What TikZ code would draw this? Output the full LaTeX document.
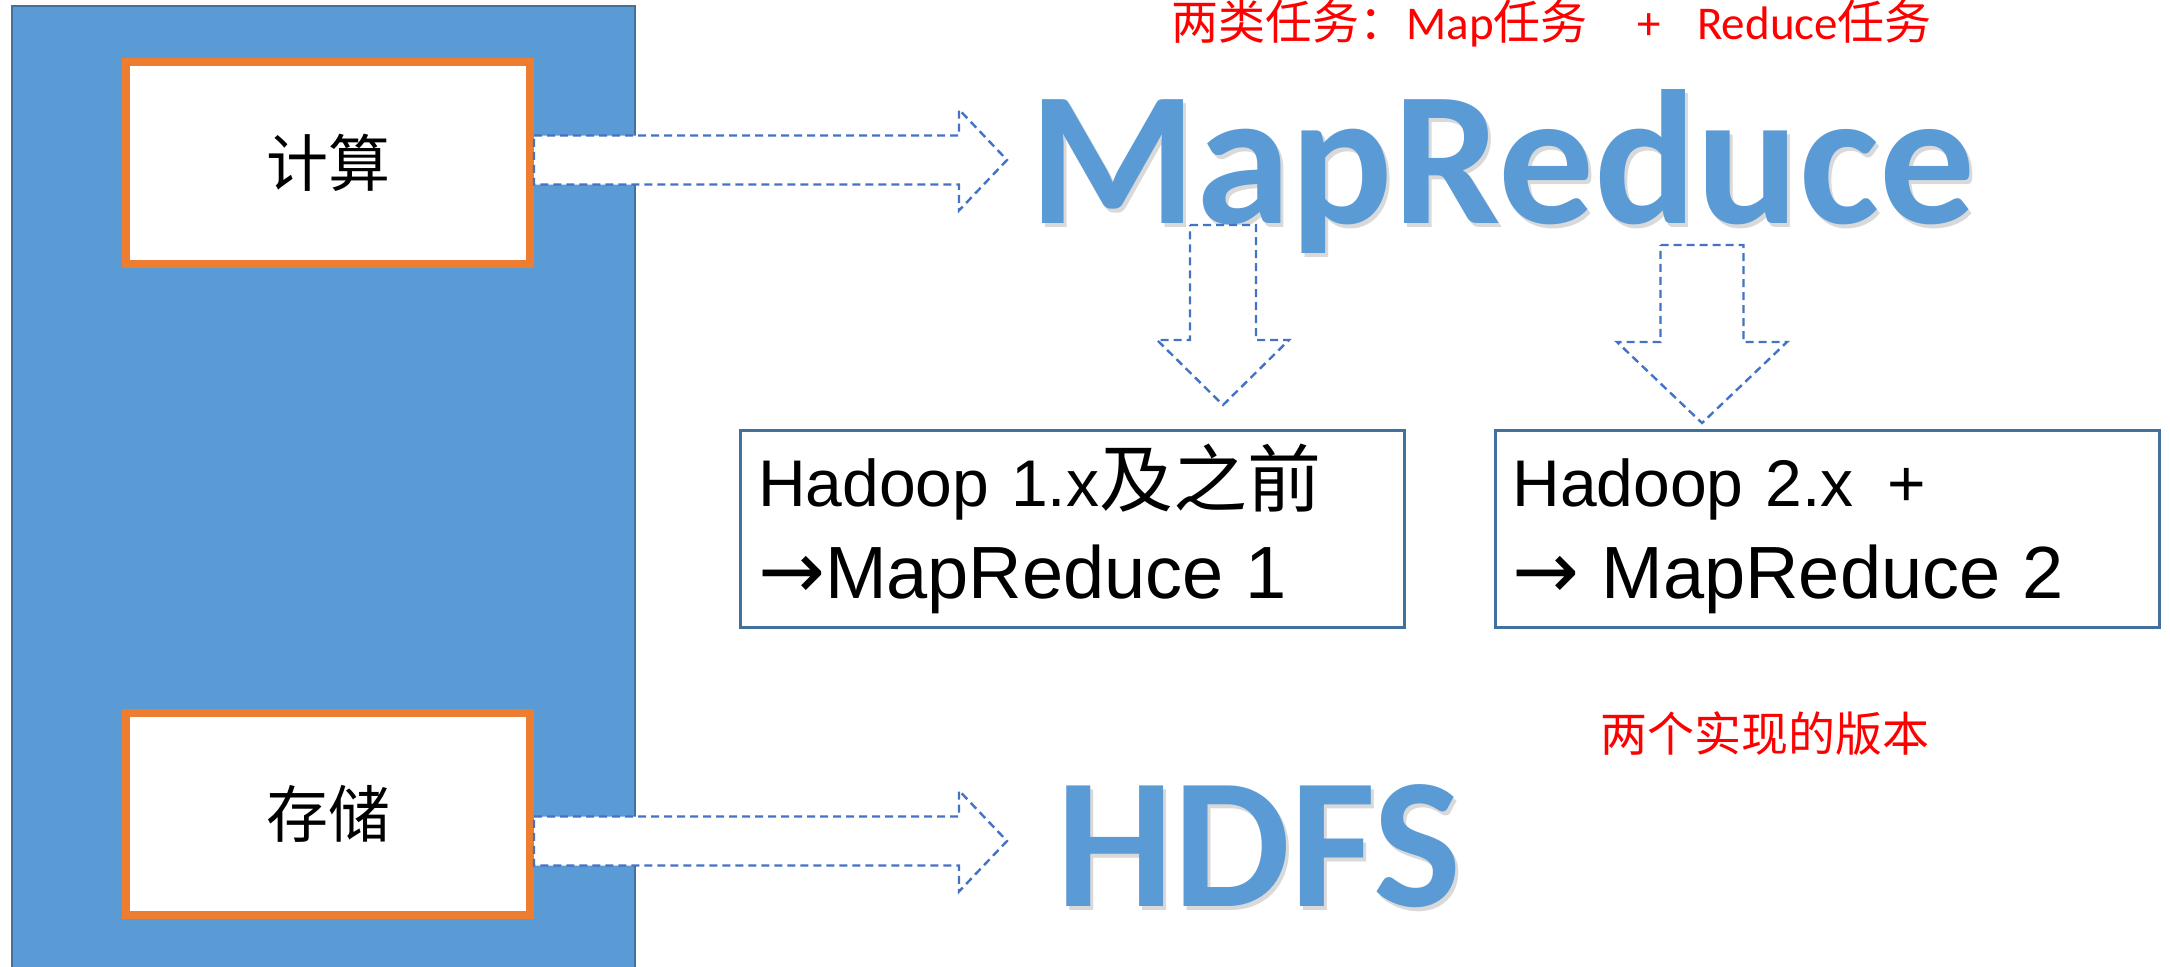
\documentclass[tikz,border=0pt]{standalone}
\usepackage{fontspec}
\setmainfont{Liberation Sans}
\newfontfamily\cjk{Noto Sans CJK SC}
\newfontfamily\cali{Carlito}
\newfontfamily\arrowfont{DejaVu Sans}
\usepackage{tikz}
\usetikzlibrary{calc}
\definecolor{panelblue}{HTML}{5B9BD5}
\definecolor{paneledge}{HTML}{41719C}
\definecolor{boxorange}{HTML}{ED7D31}
\definecolor{dashblue}{HTML}{4472C4}

\newcommand{\rightblock}[2]{%
  \draw[hollow] let \p1=(#1), \p2=(#2) in
    (\x1,\y2+12.25pt) -- (\x2-24pt,\y2+12.25pt) -- (\x2-24pt,\y2+25.25pt)
    -- (\p2) -- (\x2-24pt,\y2-25.25pt) -- (\x2-24pt,\y2-12.25pt)
    -- (\x1,\y2-12.25pt) -- cycle;}
\newcommand{\downblock}[5]{%
  \draw[hollow] let \p1=(#1), \p2=(#2) in
    (\x2-#3,\y1) -- (\x2+#3,\y1) -- (\x2+#3,\y2+#5) -- (\x2+#4,\y2+#5)
    -- (\p2) -- (\x2-#4,\y2+#5) -- (\x2-#3,\y2+#5) -- cycle;}
\newcommand{\toarrow}{{\arrowfont\fontsize{40}{46}\selectfont →}}
\newcommand{\bigline}[1]{{\fontsize{37}{46}\selectfont #1}}

\begin{document}
\begin{tikzpicture}[x=0.5pt, y=-0.5pt,
  panel/.style={fill=panelblue, draw=paneledge, line width=0.75pt},
  membox/.style={draw=boxorange, fill=white, line width=4pt, minimum width=202pt, minimum height=101pt, font=\cjk\fontsize{31}{36}\selectfont},
  hollow/.style={draw=dashblue, fill=white, line width=1.2pt, dash pattern=on 4pt off 2.5pt},
  verbox/.style={draw=paneledge, fill=white, line width=1.5pt, minimum width=332pt, minimum height=98.5pt, align=left, text width=314.5pt, inner xsep=8.75pt, font=\fontsize{33}{46}\selectfont},
  bigword/.style={font=\cali\bfseries\fontsize{93}{100}\selectfont, text=panelblue, inner sep=0pt, anchor=base west},
  bigshadow/.style={bigword, text=black, text opacity=0.15},
  note/.style={text=red, inner sep=0pt}]
\useasboundingbox (0,0) rectangle (2170,966);
\draw[panel] (12,6) rectangle (635,990);

\node[membox] (calc) at (328,163) {计算};
\node[membox] (store) at (328,814) {存储};

\node[bigshadow, font=\cali\bfseries\fontsize{95.5}{100}\selectfont] (mrshade) at (1032,227) {MapReduce};
\node[bigword, font=\cali\bfseries\fontsize{95.5}{100}\selectfont] (mr) at (1029,223) {MapReduce};
\node[bigshadow] (hdfsshade) at (1059,910) {HDFS};
\node[bigword] (hdfs) at (1056,906) {HDFS};

\node[note, anchor=base west, font=\cali\fontsize{23.5}{28}\selectfont] (tasks) at (1171,39)
  {{\cjk 两类任务：}Map{\cjk 任务}\hspace{25pt}+\hspace{18pt}Reduce{\cjk 任务}};
\node[note, font=\cjk\fontsize{23.5}{28}\selectfont] (impls) at (1765,734) {两个实现的版本};

\node[verbox] (v1) at (1072.5,529)
  {\rule{0pt}{31pt}Hadoop 1.x{\cjk\fontsize{37}{46}\selectfont 及之前}\\\toarrow\bigline{MapReduce 1}};
\node[verbox] (v2) at (1827,529)
  {\rule{0pt}{31pt}Hadoop 2.x\hspace{17pt}+\\\toarrow\ \bigline{MapReduce 2}};

\coordinate (mrtip) at (1007,160);
\coordinate (hdfstip) at (1007,841);
\coordinate (mapfoot) at (1223,225);
\coordinate (v1tip) at (1223,405);
\coordinate (redfoot) at (1702,245);
\coordinate (v2tip) at (1702,423);

\rightblock{calc.east}{mrtip}
\rightblock{store.east}{hdfstip}
\downblock{mapfoot}{v1tip}{16.5pt}{33pt}{32.5pt}
\downblock{redfoot}{v2tip}{20.75pt}{42.5pt}{40.5pt}
\end{tikzpicture}
\end{document}
